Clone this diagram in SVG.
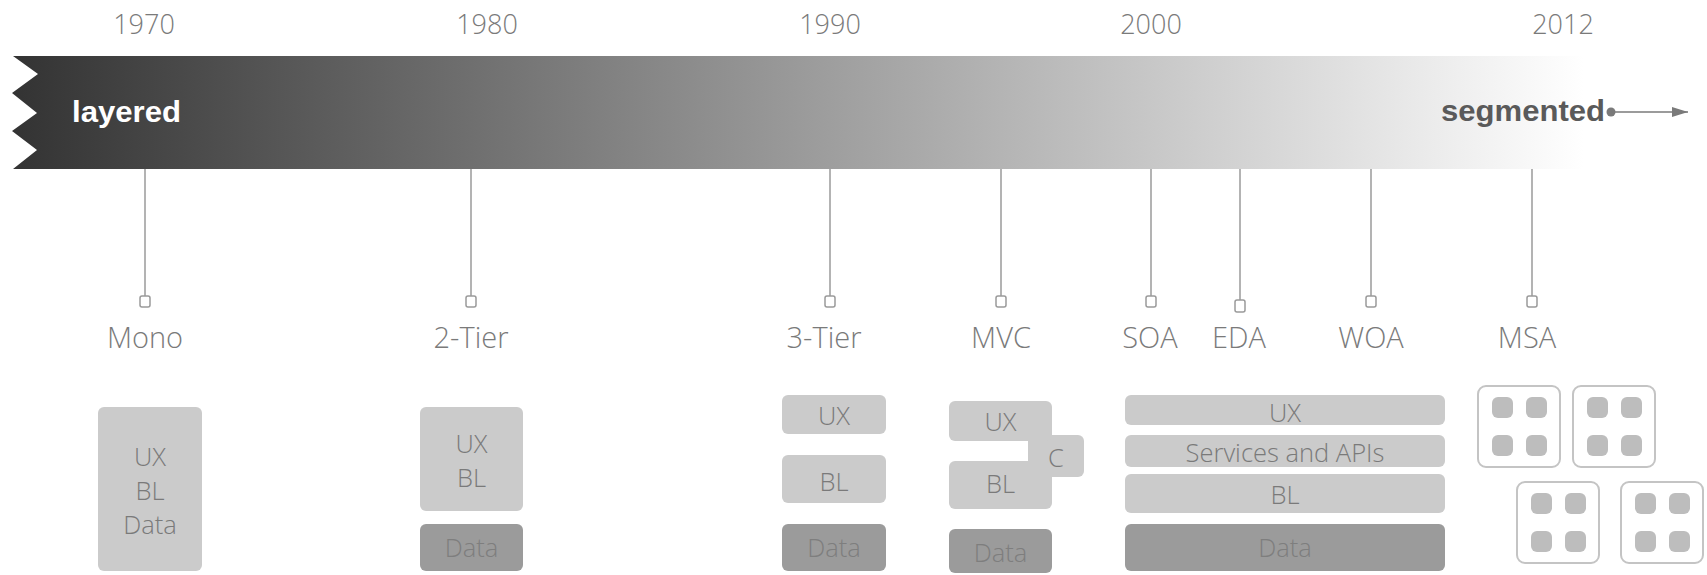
<svg xmlns="http://www.w3.org/2000/svg" width="1707" height="575" viewBox="0 0 1707 575">
  <defs>
    <linearGradient id="eraFade" gradientUnits="userSpaceOnUse" x1="13" y1="0" x2="1584" y2="0">
      <stop offset="0" stop-color="#333333"/>
      <stop offset="0.5" stop-color="#9a9a9a"/>
      <stop offset="1" stop-color="#ffffff"/>
    </linearGradient>
    <marker id="arrowHead" viewBox="0 0 16 10" refX="16" refY="5" markerWidth="16" markerHeight="10" markerUnits="userSpaceOnUse" orient="auto">
      <path d="M0,0 L16,5 L0,10 Z" fill="#7a7a7a"/>
    </marker>
    <g id="service">
      <rect x="0" y="0" width="82" height="81" rx="8" fill="#ffffff" stroke="#c4c4c4" stroke-width="2"/>
      <rect x="14" y="11" width="21" height="21" rx="6" fill="#bdbdbd"/>
      <rect x="48" y="11" width="21" height="21" rx="6" fill="#bdbdbd"/>
      <rect x="14" y="49" width="21" height="21" rx="6" fill="#bdbdbd"/>
      <rect x="48" y="49" width="21" height="21" rx="6" fill="#bdbdbd"/>
    </g>
  </defs>
  <style>
    .yr { font-family: "Open Sans", "Liberation Sans", sans-serif; font-weight: 300; font-size: 27px; fill: #7a7a7a; text-anchor: middle; }
    .lbl { font-family: "Open Sans", "Liberation Sans", sans-serif; font-weight: 300; font-size: 29px; fill: #7a7a7a; text-anchor: middle; }
    .bxt { font-family: "Open Sans", "Liberation Sans", sans-serif; font-weight: 300; font-size: 25.5px; fill: #7a7a7a; text-anchor: middle; }
    .dt { font-family: "Open Sans", "Liberation Sans", sans-serif; font-weight: 300; font-size: 25.5px; fill: #7e7e7e; text-anchor: middle; }
    .band { font-family: "Liberation Sans", sans-serif; font-weight: 700; font-size: 30px; }
    .layer { fill: #cbcbcb; }
    .store { fill: #9b9b9b; }
    .stem { stroke: #9a9a9a; stroke-width: 1.5; fill: none; }
    .pin { fill: #ffffff; stroke: #9a9a9a; stroke-width: 1.5; }
  </style>

  <rect width="1707" height="575" fill="#ffffff"/>

  <!-- year scale -->
  <g id="years">
    <text class="yr" x="144" y="34">1970</text>
    <text class="yr" x="487" y="34">1980</text>
    <text class="yr" x="830" y="34">1990</text>
    <text class="yr" x="1151" y="34">2000</text>
    <text class="yr" x="1563" y="34">2012</text>
  </g>

  <!-- era band: layered to segmented -->
  <g id="band">
    <path d="M13,56 L1584,56 L1584,169 L13,169 L37,150 L12,131 L37,113 L12,93 L38,74 Z" fill="url(#eraFade)"/>
    <text class="band" x="72" y="122" fill="#ffffff" textLength="109" lengthAdjust="spacingAndGlyphs">layered</text>
    <text class="band" x="1441" y="121" fill="#5a5a5a" textLength="164" lengthAdjust="spacingAndGlyphs">segmented</text>
  </g>

  <!-- stems from the band to each milestone -->
  <g id="connectors">
    <line class="stem" x1="145" y1="169" x2="145" y2="296"/>
    <line class="stem" x1="471" y1="169" x2="471" y2="296"/>
    <line class="stem" x1="830" y1="169" x2="830" y2="296"/>
    <line class="stem" x1="1001" y1="169" x2="1001" y2="296"/>
    <line class="stem" x1="1151" y1="169" x2="1151" y2="296"/>
    <line class="stem" x1="1240" y1="169" x2="1240" y2="300"/>
    <line class="stem" x1="1371" y1="169" x2="1371" y2="296"/>
    <line class="stem" x1="1532" y1="169" x2="1532" y2="296"/>
    <circle cx="1611" cy="112" r="4.5" fill="#7a7a7a"/>
    <line x1="1611" y1="112" x2="1688" y2="112" stroke="#7a7a7a" stroke-width="1.5" marker-end="url(#arrowHead)"/>
  </g>

  <g id="mono">
    <rect class="pin" x="140" y="296" width="10" height="11" rx="2"/>
    <text class="lbl" x="145" y="348">Mono</text>
    <rect class="layer" x="98" y="407" width="104" height="164" rx="6"/>
    <text class="bxt" x="150" y="466">UX</text>
    <text class="bxt" x="150" y="500">BL</text>
    <text class="bxt" x="150" y="534">Data</text>
  </g>

  <g id="two-tier">
    <rect class="pin" x="466" y="296" width="10" height="11" rx="2"/>
    <text class="lbl" x="471" y="348">2-Tier</text>
    <rect class="layer" x="420" y="407" width="103" height="104" rx="6"/>
    <text class="bxt" x="471.5" y="453">UX</text>
    <text class="bxt" x="471.5" y="487">BL</text>
    <rect class="store" x="420" y="524" width="103" height="47" rx="6"/>
    <text class="dt" x="471.5" y="557">Data</text>
  </g>

  <g id="three-tier">
    <rect class="pin" x="825" y="296" width="10" height="11" rx="2"/>
    <text class="lbl" x="824" y="348">3-Tier</text>
    <rect class="layer" x="782" y="395" width="104" height="39" rx="6"/>
    <text class="bxt" x="834" y="425">UX</text>
    <rect class="layer" x="782" y="455" width="104" height="48" rx="6"/>
    <text class="bxt" x="834" y="491">BL</text>
    <rect class="store" x="782" y="524" width="104" height="47" rx="6"/>
    <text class="dt" x="834" y="557">Data</text>
  </g>

  <g id="mvc">
    <rect class="pin" x="996" y="296" width="10" height="11" rx="2"/>
    <text class="lbl" x="1001" y="348">MVC</text>
    <rect class="layer" x="1028" y="435" width="56" height="42" rx="6"/>
    <rect class="layer" x="949" y="401" width="103" height="40" rx="6"/>
    <rect class="layer" x="949" y="461" width="103" height="48" rx="6"/>
    <text class="bxt" x="1000.5" y="431">UX</text>
    <text class="bxt" x="1000.5" y="493">BL</text>
    <text class="bxt" x="1056" y="467">C</text>
    <rect class="store" x="949" y="529" width="103" height="44" rx="6"/>
    <text class="dt" x="1000.5" y="562">Data</text>
  </g>

  <g id="soa">
    <rect class="pin" x="1146" y="296" width="10" height="11" rx="2"/>
    <text class="lbl" x="1150" y="348">SOA</text>
    <rect class="layer" x="1125" y="395" width="320" height="30" rx="6"/>
    <text class="bxt" x="1285" y="422">UX</text>
    <rect class="layer" x="1125" y="435" width="320" height="32" rx="6"/>
    <text class="bxt" x="1285" y="462">Services and APIs</text>
    <rect class="layer" x="1125" y="474" width="320" height="39" rx="6"/>
    <text class="bxt" x="1285" y="504">BL</text>
    <rect class="store" x="1125" y="524" width="320" height="47" rx="6"/>
    <text class="dt" x="1285" y="557">Data</text>
  </g>

  <g id="eda">
    <rect class="pin" x="1235" y="300" width="10" height="12" rx="2"/>
    <text class="lbl" x="1239" y="348">EDA</text>
  </g>

  <g id="woa">
    <rect class="pin" x="1366" y="296" width="10" height="11" rx="2"/>
    <text class="lbl" x="1371" y="348">WOA</text>
  </g>

  <g id="msa">
    <rect class="pin" x="1527" y="296" width="10" height="11" rx="2"/>
    <text class="lbl" x="1527" y="348">MSA</text>
    <use href="#service" x="1478" y="386"/>
    <use href="#service" x="1573" y="386"/>
    <use href="#service" x="1517" y="482"/>
    <use href="#service" x="1621" y="482"/>
  </g>
</svg>
